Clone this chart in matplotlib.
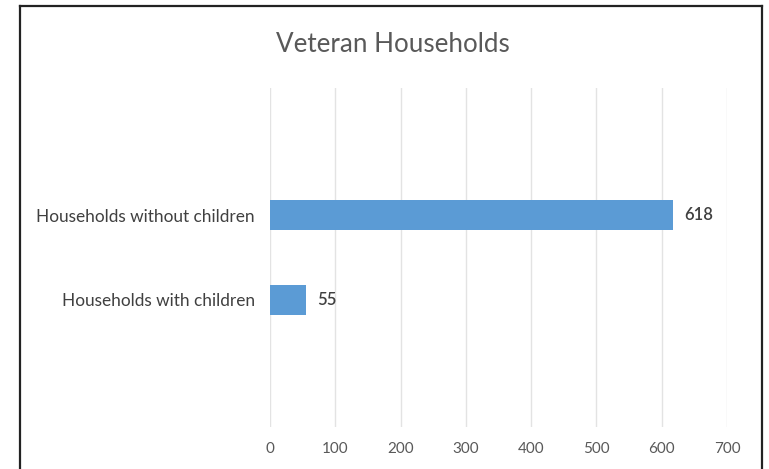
import matplotlib
matplotlib.use("Agg")
import matplotlib.pyplot as plt
from matplotlib.lines import Line2D

categories = ["Households with children", "Households without children"]
values = [55, 618]
xticks = [0, 100, 200, 300, 400, 500, 600, 700]
title = "Veteran Households"

plt.rcParams['font.family'] = ['Lato', 'DejaVu Sans']

fig = plt.figure(figsize=(7.69, 4.69), dpi=100)
fig.patch.set_facecolor("white")

ax = fig.add_axes([270/769, 42/469, 457/769, 339/469])
ypos = list(range(len(categories)))
ax.barh(ypos, values, height=0.35, color="#5B9BD5", zorder=3)
ax.set_xlim(0, 700)
ax.set_ylim(-1.5, 2.5)
ax.set_xticks(xticks)
ax.set_xticklabels([str(t) for t in xticks])
ax.set_yticks(ypos)
ax.set_yticklabels(categories)
ax.tick_params(axis="x", length=0, pad=11, labelsize=11, colors="#595959")
ax.tick_params(axis="y", length=0, pad=11, labelsize=12.4, colors="#404040")
ax.grid(axis="x", color="#E3E3E3", linewidth=1.0, zorder=0)
for s in ax.spines.values():
    s.set_visible(False)

for y, v in zip(ypos, values):
    ax.annotate(str(v), xy=(v, y), xytext=(8, 0), textcoords="offset points",
                ha="left", va="center", fontsize=12, color="#404040",
                fontweight="semibold")

fig.text(393/769, 1 - 45/469, title, ha="center", va="center",
         fontsize=18.7, color="#595959")

# outer frame (left, top, right; bottom cut off)
fx0, fx1, fy = 20/769, 762/769, 1 - 6/469
for xs, ys in [([fx0, fx0], [0, fy]), ([fx0, fx1], [fy, fy]), ([fx1, fx1], [fy, 0])]:
    fig.add_artist(Line2D(xs, ys, transform=fig.transFigure, color="#222222",
                          linewidth=1.6))

fig.savefig("out.png", dpi=100)
